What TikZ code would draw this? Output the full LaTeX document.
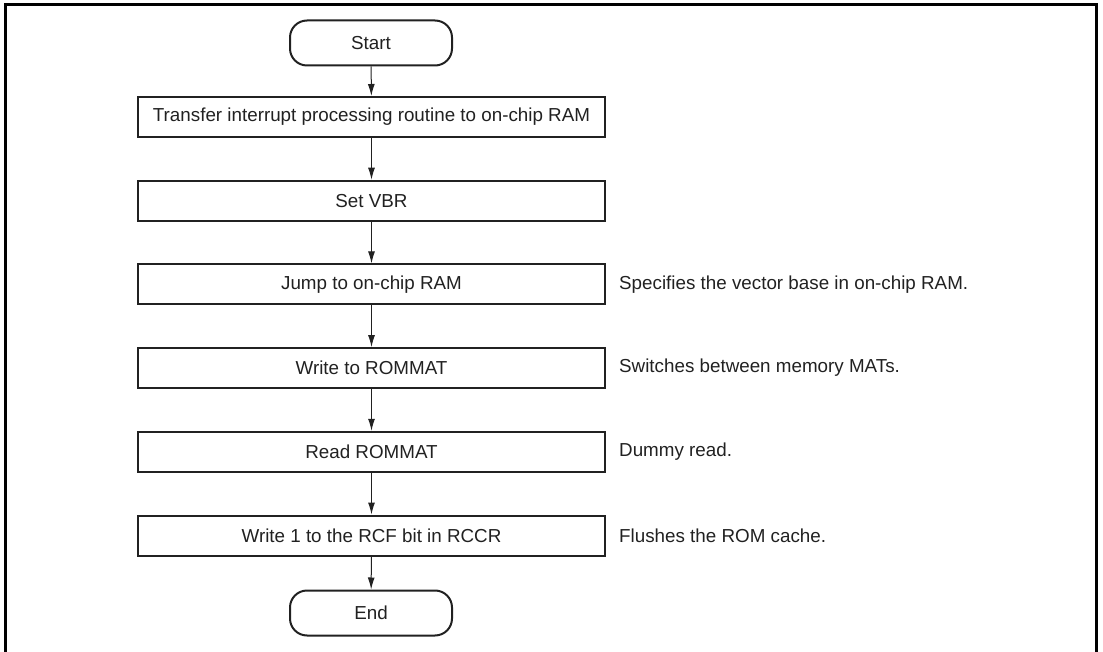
\documentclass[tikz,border=0pt]{standalone}
\usepackage{fontspec}
\setmainfont{Liberation Sans}
\usetikzlibrary{positioning,arrows.meta}

\tikzset{
    stepbox/.style={draw=black!87, line width=2pt, minimum width=467pt, minimum height=40pt,
        inner sep=0pt, font=\fontsize{18.8}{22}\selectfont, text=black!87},
    termbox/.style={stepbox, minimum width=162pt, minimum height=45pt, rounded corners=17pt},
    note/.style={anchor=west, inner sep=0pt, font=\fontsize{18.8}{22}\selectfont, text=black!87},
    flow/.style={-{Latex[length=12pt,width=7pt]}, line width=1pt, draw=black!87}
}

\begin{document}
\begin{tikzpicture}[x=1pt, y=-1pt]
    \useasboundingbox (0,0) rectangle (1103,652);

    % Cornice esterna
    \draw[line width=3pt] (5,660) -- (5,4.5) -- (1096,4.5) -- (1096,660);

    % Blocchi del diagramma
    \node[termbox] (start) at (371,43) {Start};
    \node[stepbox] (transfer) at (371.5,117) {Transfer interrupt processing routine to on-chip RAM};
    \node[stepbox] (setvbr) at (371.5,200.7) {Set VBR};
    \node[stepbox] (jump) at (371.5,284.4) {Jump to on-chip RAM};
    \node[stepbox] (wrrom) at (371.5,368.1) {Write to ROMMAT};
    \node[stepbox] (rdrom) at (371.5,451.8) {Read ROMMAT};
    \node[stepbox] (wrrcf) at (371.5,535.5) {Write 1 to the RCF bit in RCCR};
    \node[termbox] (end) at (371,613) {End};

    % Note a destra
    \node[note, right=13pt of jump] (njump) {Specifies the vector base in on-chip RAM.};
    \node[note, right=13pt of wrrom] (nwrrom) {Switches between memory MATs.};
    \node[note, right=13pt of rdrom] (nrdrom) {Dummy read.};
    \node[note, right=13pt of wrrcf] (nwrrcf) {Flushes the ROM cache.};

    % Frecce
    \draw[flow] (start) -- (transfer);
    \draw[flow] (transfer) -- (setvbr);
    \draw[flow] (setvbr) -- (jump);
    \draw[flow] (jump) -- (wrrom);
    \draw[flow] (wrrom) -- (rdrom);
    \draw[flow] (rdrom) -- (wrrcf);
    \draw[flow] (wrrcf) -- (end);
\end{tikzpicture}
\end{document}
